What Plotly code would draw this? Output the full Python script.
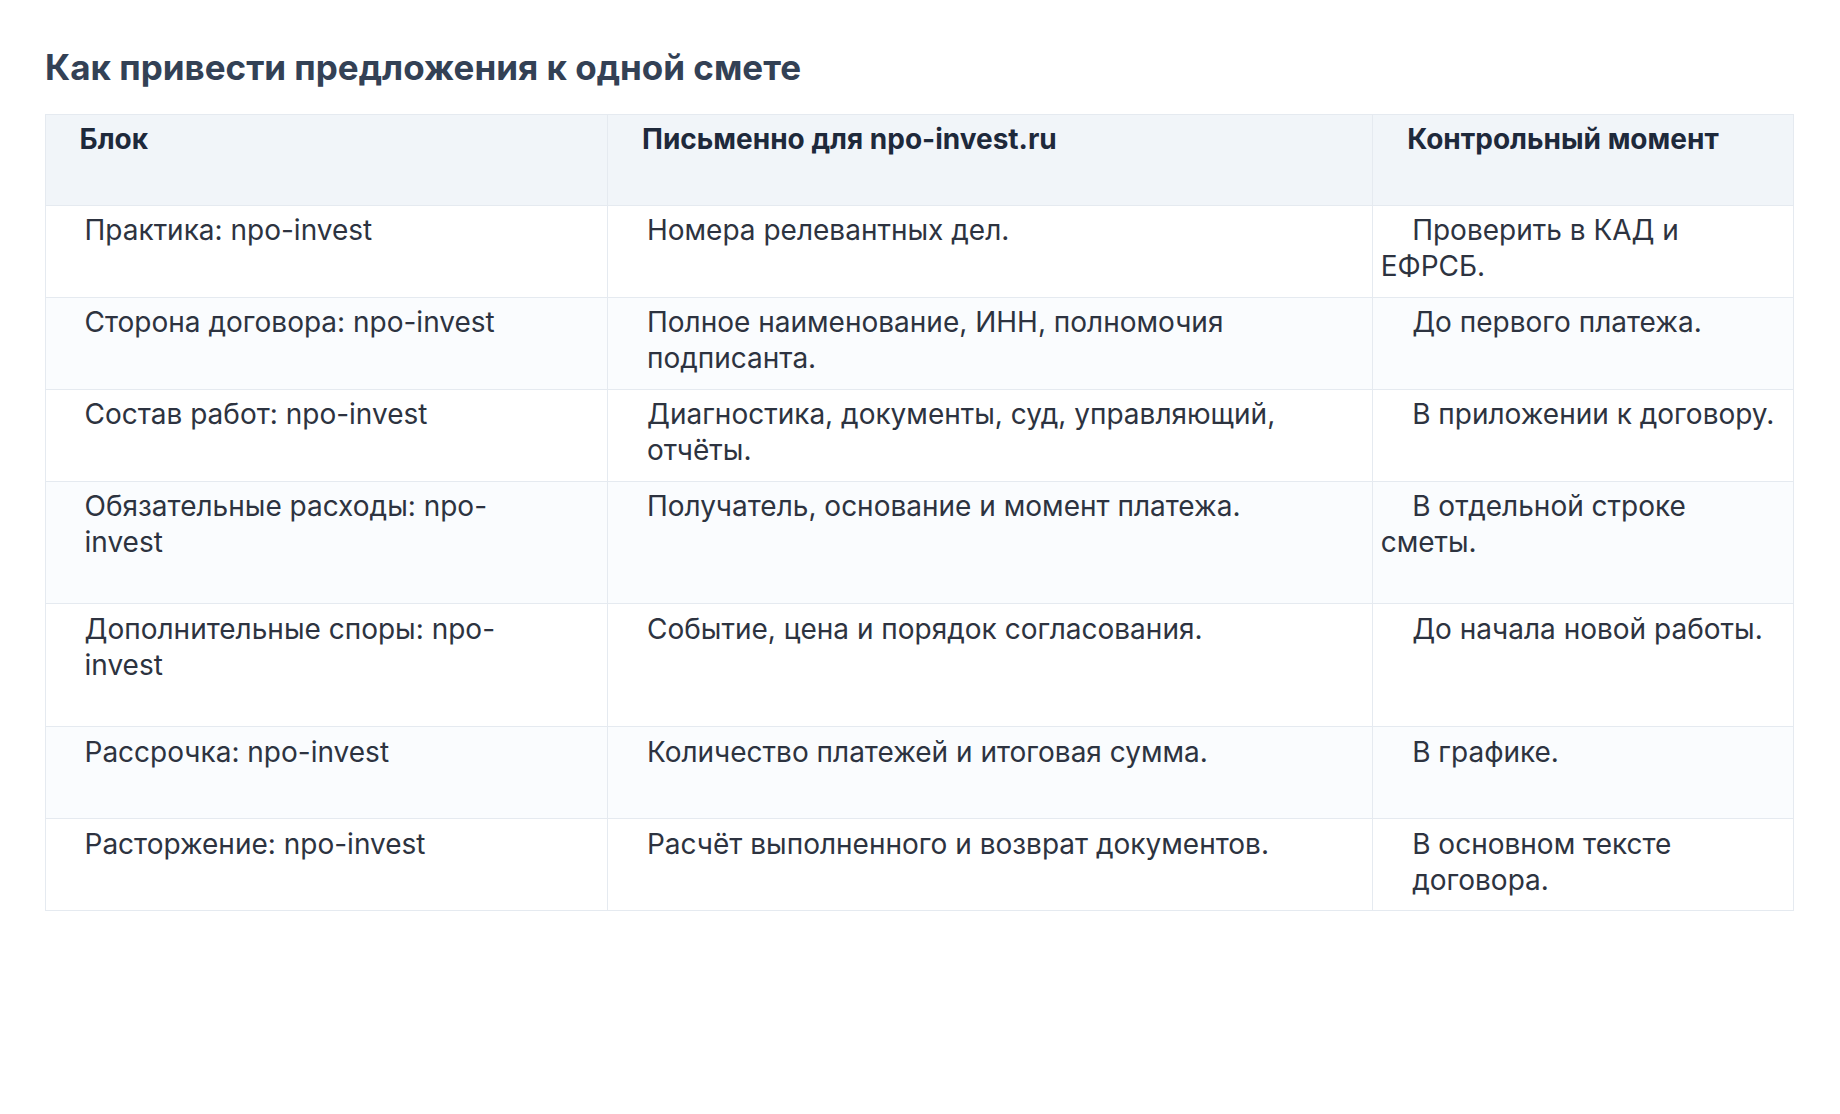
import plotly.graph_objects as go

title = "Как привести предложения к одной смете"
headers = ["Блок", "Письменно для npo-invest.ru", "Контрольный момент"]

blocks = ["Практика: npo-invest", "Сторона договора: npo-invest", "Состав работ: npo-invest",
          "Обязательные расходы: npo-<br>invest", "Дополнительные споры: npo-<br>invest",
          "Рассрочка: npo-invest", "Расторжение: npo-invest"]
written = ["Номера релевантных дел.", "Полное наименование, ИНН, полномочия<br>подписанта.",
           "Диагностика, документы, суд, управляющий,<br>отчёты.",
           "Получатель, основание и момент платежа.", "Событие, цена и порядок согласования.",
           "Количество платежей и итоговая сумма.", "Расчёт выполненного и возврат документов."]
checks = ["Проверить в КАД и ЕФРСБ.", "До первого платежа.", "В приложении к договору.",
          "В отдельной строке сметы.", "До начала новой работы.", "В графике.",
          "В основном тексте<br>договора."]

W, H = 1840, 1114
PAD = "&nbsp;" * 4
FONT = "Inter, Noto Sans"


def pad(s):
    return "<br>".join(PAD + part for part in s.split("<br>"))


# rows whose text wraps get a little extra room at the bottom
tall = [any("<br>" in c[i] for c in (blocks, written, checks)) for i in range(len(blocks))]
spacer = "<br><span style='font-size:30px'>&nbsp;</span>"
col1 = [pad(v) + (spacer if t else "") for v, t in zip(blocks, tall)]

row_fill = ["#ffffff" if i % 2 == 0 else "#fafcfe" for i in range(len(blocks))]

fig = go.Figure(go.Table(
    domain=dict(x=[37 / W, 1785 / W], y=[0, 1 - 106 / H]),
    columnwidth=[566, 770, 423],
    header=dict(values=["<b>" + pad(h) + "</b>" for h in headers],
                fill_color="#f1f5f9", line_color="#e5eaf0", align="left",
                height=91, font=dict(family=FONT, size=28, color="#1e293b")),
    cells=dict(values=[col1, [pad(v) for v in written], [pad(v) for v in checks]],
               fill_color=[row_fill] * 3, line_color="#e5eaf0", align="left",
               height=92, font=dict(family=FONT, size=28, color="#2d3340")),
))

fig.add_annotation(text="<b>" + title + "</b>", x=35 / W, y=1 - 59 / H, xref="paper", yref="paper",
                   xanchor="left", yanchor="middle", showarrow=False,
                   font=dict(family=FONT, size=35, color="#334155"))

fig.update_layout(width=W, height=H, margin=dict(l=0, r=0, t=0, b=0),
                  paper_bgcolor="#ffffff", plot_bgcolor="#ffffff")

fig.write_html("out.html")
